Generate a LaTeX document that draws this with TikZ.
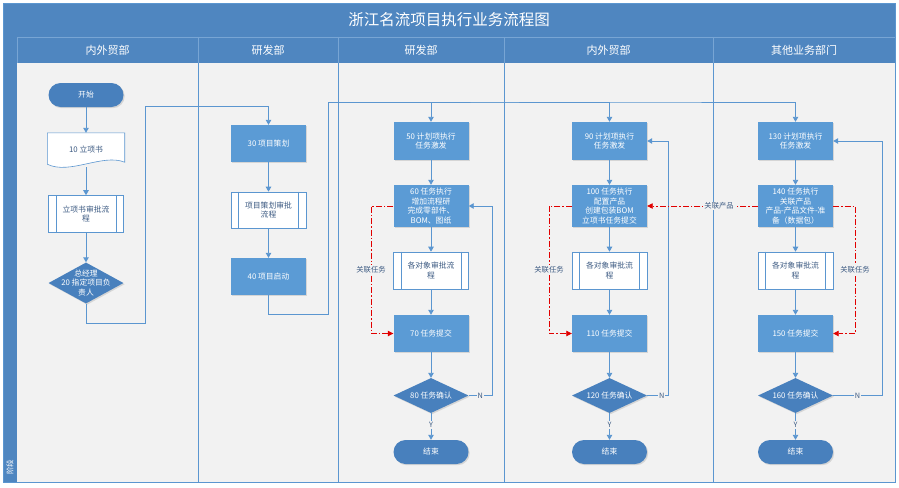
\documentclass[tikz,border=0pt]{standalone}
\usepackage{fontspec}
\setmainfont{Noto Sans CJK SC}
\usetikzlibrary{shapes.geometric,arrows.meta,shadows,calc}
\definecolor{hdrblue}{RGB}{79,134,192}
\definecolor{hdrline}{RGB}{120,165,212}
\definecolor{lanebg}{RGB}{242,242,242}
\definecolor{boxblue}{RGB}{91,155,213}
\definecolor{darkblue}{RGB}{72,128,189}
\definecolor{lineblue}{RGB}{91,150,208}
\definecolor{predtext}{RGB}{60,90,130}
\definecolor{redline}{RGB}{225,0,0}
\newcommand\mybfont{\fontsize{7.8}{9.6}\selectfont}
\newcommand\mylfont{\fontsize{7.3}{8}\selectfont}
\begin{document}
\begin{tikzpicture}[x=1pt,y=-1pt,
  shad/.style={drop shadow={opacity=0.25,shadow xshift=1.2pt,shadow yshift=-1.2pt}},
  proc/.style={rectangle,fill=boxblue,minimum width=75pt,minimum height=37pt,inner sep=0.5pt,text=white,font=\mybfont,align=center,shad},
  term/.style={rectangle,rounded corners=12pt,fill=darkblue,minimum width=75pt,minimum height=24pt,inner sep=1pt,text=white,font=\mybfont,shad},
  dec/.style={diamond,fill=darkblue,minimum width=75pt,minimum height=36pt,inner sep=0pt,shad},
  dectext/.style={text=white,font=\mybfont,align=center,inner sep=0pt},
  pre/.style={rectangle,draw=lineblue,fill=white,minimum width=75pt,minimum height=37pt,text=predtext,font=\mybfont,align=center,inner sep=1pt,line width=0.6pt},
  preline/.style={draw=lineblue,line width=0.6pt},
  docbox/.style={rectangle,minimum width=77pt,minimum height=34pt,text=predtext,font=\mybfont,inner sep=1pt},
  flow/.style={draw=lineblue,line width=0.9pt,-{Triangle[width=5.5pt,length=5pt]}},
  rel/.style={draw=redline,line width=0.8pt,dash pattern=on 6pt off 2pt on 1.5pt off 2pt,-{Triangle[width=5.5pt,length=5.5pt]}},
  lbl/.style={fill=lanebg,inner sep=1pt,font=\mylfont,text=predtext},
  lane/.style={draw=lineblue,line width=0.8pt},
  hdr/.style={text=white,font=\fontsize{11}{12}\selectfont}
]
\useasboundingbox (0,0) rectangle (899,487);
\fill[white] (0,0) rectangle (899,487);
% frame
\fill[lanebg] (3,3) rectangle (895,482);
\fill[hdrblue] (3,3) rectangle (895,63);
\fill[hdrblue] (3,63) rectangle (17,482);
\draw[hdrline,line width=0.6pt] (17,37) -- (895,37);
\foreach \x in {17,198,338,504,713} \draw[hdrline,line width=0.6pt] (\x,37) -- (\x,63);
\foreach \x in {198,338,504,713} \draw[lane] (\x,63) -- (\x,482);
\draw[lane] (3,3) rectangle (895,482);
\node[text=white,font=\fontsize{15.5}{17}\selectfont] (title) at (449,20) {浙江名流项目执行业务流程图};
\node[hdr] (h1) at (107.5,50) {内外贸部};
\node[hdr] (h2) at (268,50) {研发部};
\node[hdr] (h3) at (421,50) {研发部};
\node[hdr] (h4) at (608.5,50) {内外贸部};
\node[hdr] (h5) at (804,50) {其他业务部门};
\node[text=white,font=\fontsize{7.5}{8}\selectfont,rotate=90] (phase) at (10,467) {阶段};

% lane 1
\node[term] (start) at (86,95) {开始};
\node[docbox] (doc) at (86,150) {10 立项书};
\draw[draw=lineblue,line width=0.6pt,fill=white] (doc.north west) -- (doc.north east) -- ([yshift=5pt]doc.south east)
  .. controls ([xshift=-22pt,yshift=14pt]doc.south east) and ([xshift=22pt,yshift=-8pt]doc.south west) .. ([yshift=3pt]doc.south west) -- cycle;
\node[docbox] at (doc) {10 立项书};
\node[pre] (p1) at (86,214) {立项书审批流\\程};
\node[dec,minimum height=41pt] (d1) at (86,283) {};
\node[dectext] (d1t) at (d1) {总经理\\20 指定项目负\\责人};

% lane 2
\node[proc] (b30) at (268.5,143.5) {30 项目策划};
\node[pre,minimum height=36pt] (p2) at (268.5,210) {项目策划审批\\流程};
\node[proc] (b40) at (268.5,276.5) {40 项目启动};

% lane 3
\node[proc,minimum height=38pt] (b50) at (431,141) {50 计划项执行\\任务激发};
\node[proc,minimum height=42pt] (b60) at (431,206) {60 任务执行\\增加流程研\\完成零部件、\\BOM、图纸};
\node[pre] (p3) at (431,270.5) {各对象审批流\\程};
\node[proc] (b70) at (431,333.5) {70 任务提交};
\node[dec,minimum height=35pt] (d80) at (431,395.5) {};
\node[dectext] (d80t) at (d80) {80 任务确认};
\node[term] (e3) at (431,452) {结束};

% lane 4
\node[proc,minimum height=38pt] (b90) at (609.5,141) {90 计划项执行\\任务激发};
\node[proc,minimum height=42pt] (b100) at (609.5,206) {100 任务执行\\配置产品\\创建包装BOM\\立项书任务提交};
\node[pre] (p4) at (609.5,270.5) {各对象审批流\\程};
\node[proc] (b110) at (609.5,333.5) {110 任务提交};
\node[dec,minimum height=35pt] (d120) at (609.5,395.5) {};
\node[dectext] (d120t) at (d120) {120 任务确认};
\node[term] (e4) at (609.5,452) {结束};

% lane 5
\node[proc,minimum height=38pt] (b130) at (795.5,141) {130 计划项执行\\任务激发};
\node[proc,minimum height=42pt] (b140) at (795.5,206) {140 任务执行\\关联产品\\产品-产品文件-准\\备（数据包）};
\node[pre] (p5) at (795.5,270.5) {各对象审批流\\程};
\node[proc] (b150) at (795.5,333.5) {150 任务提交};
\node[dec,minimum height=35pt] (d160) at (795.5,395.5) {};
\node[dectext] (d160t) at (d160) {160 任务确认};
\node[term] (e5) at (795.5,452) {结束};

% inner lines of predefined processes
\foreach \p in {p1,p2,p3,p4,p5}{
  \draw[preline] ([xshift=8pt]\p.north west) -- ([xshift=8pt]\p.south west);
  \draw[preline] ([xshift=-8pt]\p.north east) -- ([xshift=-8pt]\p.south east);
}

% coordinates for routing
\coordinate (c1a) at (86,323);
\coordinate (c1b) at (145,323);
\coordinate (c1c) at (145,106);
\coordinate (c2a) at (268.5,314);
\coordinate (c2b) at (328,314);
\coordinate (c2c) at (328,102);
\coordinate (bus3) at (431,102);
\coordinate (bus4) at (609.5,102);
\coordinate (n3) at (492,395.5);
\coordinate (n4) at (668,395.5);
\coordinate (n5) at (882,395.5);
\coordinate (r3) at (371,206);
\coordinate (r4) at (549,206);
\coordinate (r5) at (855,206);

% lane 1 flows
\draw[flow] (start) -- (doc);
\draw[flow] (doc.south) -- (p1);
\draw[flow] (p1) -- (d1);
\draw[flow] (d1.south) -- (c1a) -- (c1b) -- (c1c) -| (b30.north);
% lane 2 flows
\draw[flow] (b30) -- (p2);
\draw[flow] (p2) -- (b40);
\draw[flow] (b40.south) -- (c2a) -- (c2b) -- (c2c) -| (b50.north);
\draw[flow] (b40.south) -- (c2a) -- (c2b) -- (c2c) -- (bus3) -| (b90.north);
\draw[flow] (b40.south) -- (c2a) -- (c2b) -- (c2c) -- (bus4) -| (b130.north);
% lane 3 flows
\draw[flow] (b50) -- (b60);
\draw[flow] (b60) -- (p3);
\draw[flow] (p3) -- (b70);
\draw[flow] (b70) -- (d80);
\draw[flow] (d80) -- node[lbl,pos=0.45] {Y} (e3);
\draw[flow] (d80.east) -- node[lbl,pos=0.5] {N} (n3) |- (b60.east);
% lane 4 flows
\draw[flow] (b90) -- (b100);
\draw[flow] (b100) -- (p4);
\draw[flow] (p4) -- (b110);
\draw[flow] (b110) -- (d120);
\draw[flow] (d120) -- node[lbl,pos=0.45] {Y} (e4);
\draw[flow] (d120.east) -- node[lbl,pos=0.7] {N} (n4) |- (b90.east);
% lane 5 flows
\draw[flow] (b130) -- (b140);
\draw[flow] (b140) -- (p5);
\draw[flow] (p5) -- (b150);
\draw[flow] (b150) -- (d160);
\draw[flow] (d160) -- node[lbl,pos=0.45] {Y} (e5);
\draw[flow] (d160.east) -- node[lbl,pos=0.5] {N} (n5) |- (b130.east);

% related (red dash-dot)
\draw[rel] (b60.west) -- (r3) |- node[lbl,pos=0.25] {关联任务} (b70.west);
\draw[rel] (b100.west) -- (r4) |- node[lbl,pos=0.25] {关联任务} (b110.west);
\draw[rel] (b140.east) -- (r5) |- node[lbl,pos=0.25] {关联任务} (b150.east);
\draw[rel] (b140.west) -- node[lbl,pos=0.35] {关联产品} (b100.east);
\end{tikzpicture}
\end{document}
